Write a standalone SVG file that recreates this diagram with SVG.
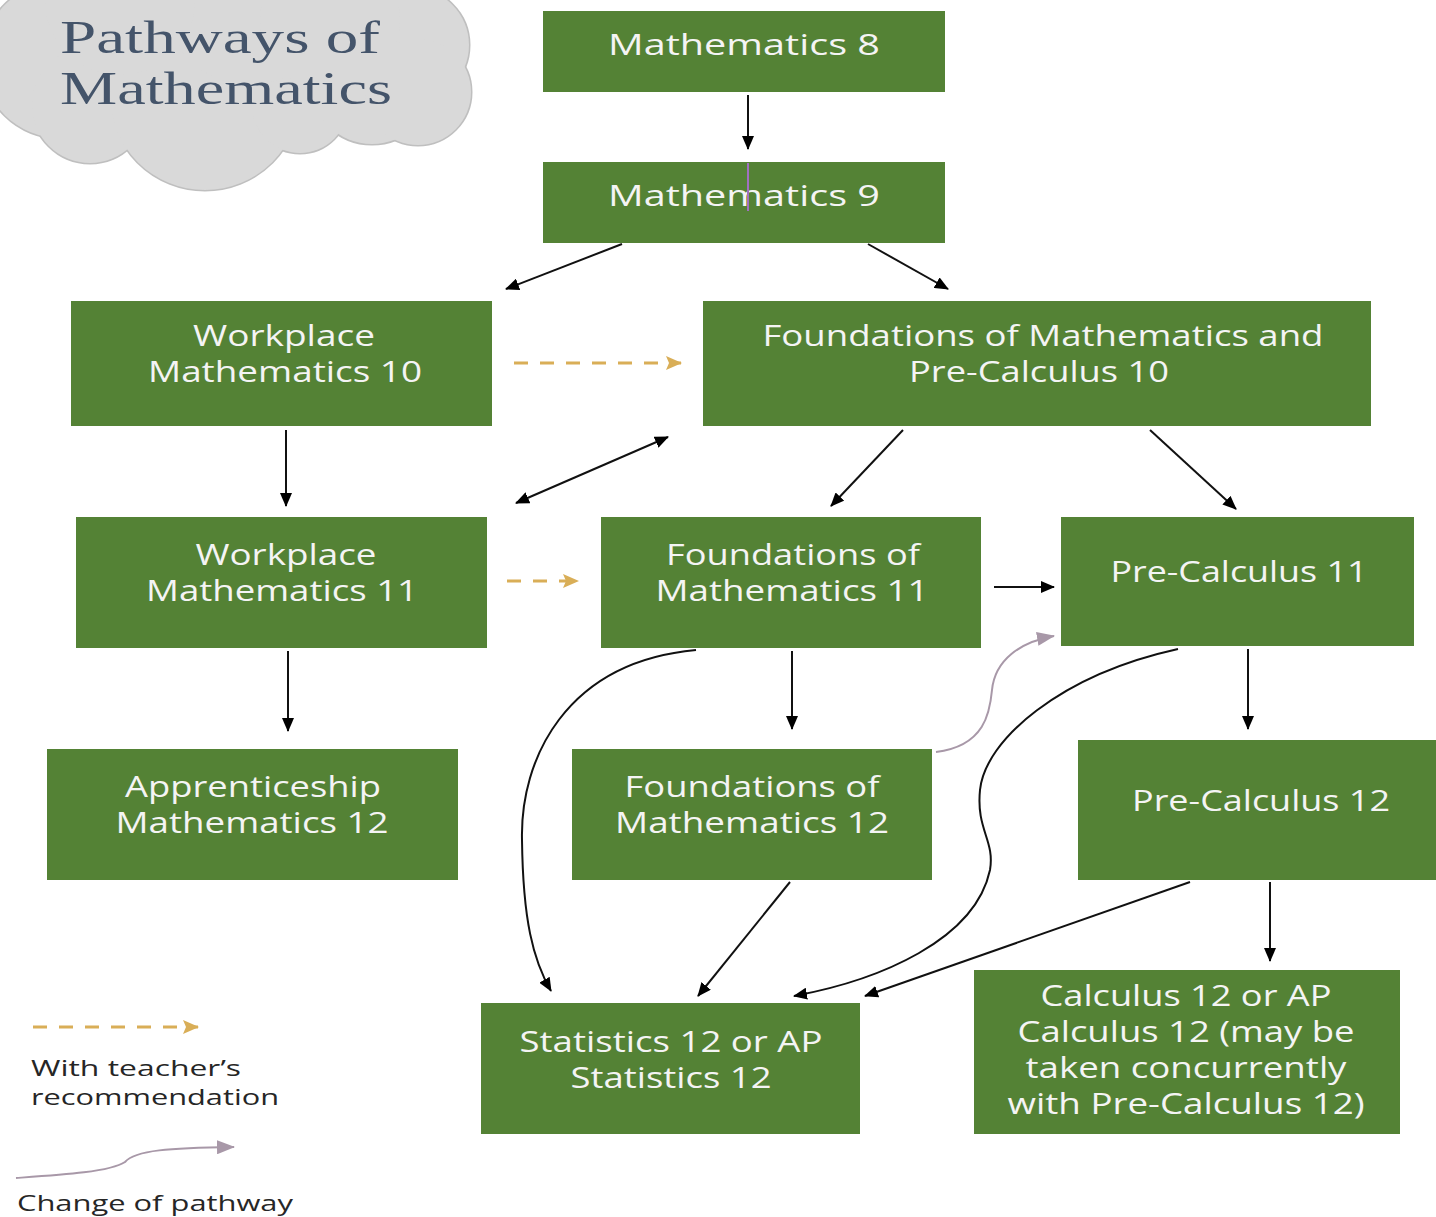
<svg xmlns="http://www.w3.org/2000/svg" width="1436" height="1217" viewBox="0 0 1436 1217">
<style>
.box{fill:#548235}
.t{font-family:"Open Sans","DejaVu Sans",sans-serif;font-size:29px;fill:#f4f4f4;text-anchor:middle}
.lg{font-family:"Open Sans","DejaVu Sans",sans-serif;font-size:21px;fill:#262626}
.title{font-family:"Liberation Serif","Times New Roman",serif;font-size:47px;fill:#44546a}
.k{fill:none;stroke:#111;stroke-width:2;marker-end:url(#ak)}
.d{fill:none;stroke:#d9ae57;stroke-width:3;stroke-dasharray:14 12;marker-end:url(#ag)}
.p{fill:none;stroke:#a898a8;stroke-width:2;marker-end:url(#ap)}
</style>
<defs>
<marker id="ak" markerWidth="14" markerHeight="12" refX="13" refY="6" orient="auto" markerUnits="userSpaceOnUse"><path d="M0,0 L14,6 L0,12 z" fill="#000"/></marker>
<marker id="aks" markerWidth="14" markerHeight="12" refX="1" refY="6" orient="auto" markerUnits="userSpaceOnUse"><path d="M14,0 L0,6 L14,12 z" fill="#000"/></marker>
<marker id="ag" markerWidth="16" markerHeight="14" refX="15" refY="7" orient="auto" markerUnits="userSpaceOnUse"><path d="M0,0 L16,7 L0,14 L3,7 z" fill="#d9ae57"/></marker>
<marker id="ap" markerWidth="18" markerHeight="14" refX="17" refY="7" orient="auto" markerUnits="userSpaceOnUse"><path d="M0,0 L18,7 L0,14 z" fill="#a898a8"/></marker>
</defs>
<rect width="1436" height="1217" fill="#fff"/>

<g id="title-cloud">
<g fill="#d9d9d9" stroke="#bfbfbf" stroke-width="3">
<circle cx="60" cy="60" r="78"/><circle cx="90" cy="105" r="58"/><circle cx="205" cy="95" r="95"/>
<circle cx="300" cy="105" r="48"/>
<circle cx="372" cy="82" r="62"/><circle cx="412" cy="45" r="57"/><circle cx="418" cy="92" r="53"/>
<circle cx="250" cy="0" r="85"/><circle cx="120" cy="0" r="75"/><circle cx="330" cy="20" r="70"/>
</g>
<g fill="#d9d9d9">
<circle cx="60" cy="60" r="78"/><circle cx="90" cy="105" r="58"/><circle cx="205" cy="95" r="95"/>
<circle cx="300" cy="105" r="48"/>
<circle cx="372" cy="82" r="62"/><circle cx="412" cy="45" r="57"/><circle cx="418" cy="92" r="53"/>
<circle cx="250" cy="0" r="85"/><circle cx="120" cy="0" r="75"/><circle cx="330" cy="20" r="70"/>
</g>
<text class="title" x="60" y="53" textLength="320" lengthAdjust="spacingAndGlyphs">Pathways of</text>
<text class="title" x="60" y="104" textLength="332" lengthAdjust="spacingAndGlyphs">Mathematics</text>
</g>

<g id="connectors">
<line class="k" x1="748" y1="95" x2="748" y2="149"/>
<line class="k" x1="622" y1="244" x2="506" y2="289"/>
<line class="k" x1="868" y1="244" x2="948" y2="289"/>
<line class="d" x1="514" y1="363" x2="681" y2="363"/>
<line class="k" x1="286" y1="430" x2="286" y2="506"/>
<line class="k" x1="516" y1="503" x2="668" y2="437" marker-start="url(#aks)"/>
<line class="k" x1="903" y1="430" x2="831" y2="506"/>
<line class="k" x1="1150" y1="430" x2="1236" y2="509"/>
<line class="d" x1="507" y1="581" x2="578" y2="581"/>
<line class="k" x1="994" y1="587" x2="1054" y2="587"/>
<line class="k" x1="288" y1="651" x2="288" y2="731"/>
<line class="k" x1="792" y1="651" x2="792" y2="729"/>
<line class="k" x1="1248" y1="649" x2="1248" y2="729"/>
<path class="p" d="M936,752 C985,746 990,712 992,690 C995,660 1020,642 1054,636"/>
<path class="k" d="M696,650 C565,662 520,760 522,840 C523,920 533,960 551,991"/>
<path class="k" d="M1178,649 C1060,675 985,740 980,790 C976,830 995,840 990,870 C975,940 880,980 794,996"/>
<line class="k" x1="1190" y1="882" x2="865" y2="996"/>
<line class="k" x1="790" y1="882" x2="698" y2="996"/>
<line class="k" x1="1270" y1="882" x2="1270" y2="961"/>
</g>

<g id="n-math8"><rect class="box" x="543" y="11" width="402" height="81"/>
<text class="t" x="744" y="55" textLength="272" lengthAdjust="spacingAndGlyphs">Mathematics 8</text></g>
<g id="n-math9"><rect class="box" x="543" y="162" width="402" height="81"/>
<text class="t" x="744" y="206" textLength="272" lengthAdjust="spacingAndGlyphs">Mathematics 9</text>
<line x1="748" y1="163" x2="748" y2="211" stroke="#a070c0" stroke-width="2"/></g>
<g id="n-wm10"><rect class="box" x="71" y="301" width="421" height="125"/>
<text class="t" x="284" y="346" textLength="182" lengthAdjust="spacingAndGlyphs">Workplace</text>
<text class="t" x="285" y="382" textLength="274" lengthAdjust="spacingAndGlyphs">Mathematics 10</text></g>
<g id="n-fpc10"><rect class="box" x="703" y="301" width="668" height="125"/>
<text class="t" x="1043" y="346" textLength="561" lengthAdjust="spacingAndGlyphs">Foundations of Mathematics and</text>
<text class="t" x="1039" y="382" textLength="260" lengthAdjust="spacingAndGlyphs">Pre-Calculus 10</text></g>
<g id="n-wm11"><rect class="box" x="76" y="517" width="411" height="131"/>
<text class="t" x="286" y="565" textLength="181" lengthAdjust="spacingAndGlyphs">Workplace</text>
<text class="t" x="282" y="601" textLength="272" lengthAdjust="spacingAndGlyphs">Mathematics 11</text></g>
<g id="n-fm11"><rect class="box" x="601" y="517" width="380" height="131"/>
<text class="t" x="793" y="565" textLength="254" lengthAdjust="spacingAndGlyphs">Foundations of</text>
<text class="t" x="792" y="601" textLength="273" lengthAdjust="spacingAndGlyphs">Mathematics 11</text></g>
<g id="n-pc11"><rect class="box" x="1061" y="517" width="353" height="129"/>
<text class="t" x="1239" y="582" textLength="257" lengthAdjust="spacingAndGlyphs">Pre-Calculus 11</text></g>
<g id="n-am12"><rect class="box" x="47" y="749" width="411" height="131"/>
<text class="t" x="253" y="797" textLength="256" lengthAdjust="spacingAndGlyphs">Apprenticeship</text>
<text class="t" x="252" y="833" textLength="273" lengthAdjust="spacingAndGlyphs">Mathematics 12</text></g>
<g id="n-fm12"><rect class="box" x="572" y="749" width="360" height="131"/>
<text class="t" x="752" y="797" textLength="255" lengthAdjust="spacingAndGlyphs">Foundations of</text>
<text class="t" x="752" y="833" textLength="274" lengthAdjust="spacingAndGlyphs">Mathematics 12</text></g>
<g id="n-pc12"><rect class="box" x="1078" y="740" width="358" height="140"/>
<text class="t" x="1261" y="811" textLength="258" lengthAdjust="spacingAndGlyphs">Pre-Calculus 12</text></g>
<g id="n-stats"><rect class="box" x="481" y="1003" width="379" height="131"/>
<text class="t" x="671" y="1052" textLength="303" lengthAdjust="spacingAndGlyphs">Statistics 12 or AP</text>
<text class="t" x="671" y="1088" textLength="201" lengthAdjust="spacingAndGlyphs">Statistics 12</text></g>
<g id="n-calc"><rect class="box" x="974" y="970" width="426" height="164"/>
<text class="t" x="1186" y="1006" textLength="291" lengthAdjust="spacingAndGlyphs">Calculus 12 or AP</text>
<text class="t" x="1186" y="1042" textLength="337" lengthAdjust="spacingAndGlyphs">Calculus 12 (may be</text>
<text class="t" x="1186" y="1078" textLength="321" lengthAdjust="spacingAndGlyphs">taken concurrently</text>
<text class="t" x="1186" y="1114" textLength="357" lengthAdjust="spacingAndGlyphs">with Pre-Calculus 12)</text></g>

<g id="legend">
<line class="d" x1="33" y1="1027" x2="198" y2="1027"/>
<text class="lg" x="31" y="1076" textLength="210" lengthAdjust="spacingAndGlyphs">With teacher’s</text>
<text class="lg" x="31" y="1105" textLength="248" lengthAdjust="spacingAndGlyphs">recommendation</text>
<path class="p" d="M16,1178 C60,1175 110,1172 125,1162 C135,1150 170,1148 234,1147"/>
<text class="lg" x="17" y="1211" textLength="276" lengthAdjust="spacingAndGlyphs">Change of pathway</text>
</g>
</svg>
